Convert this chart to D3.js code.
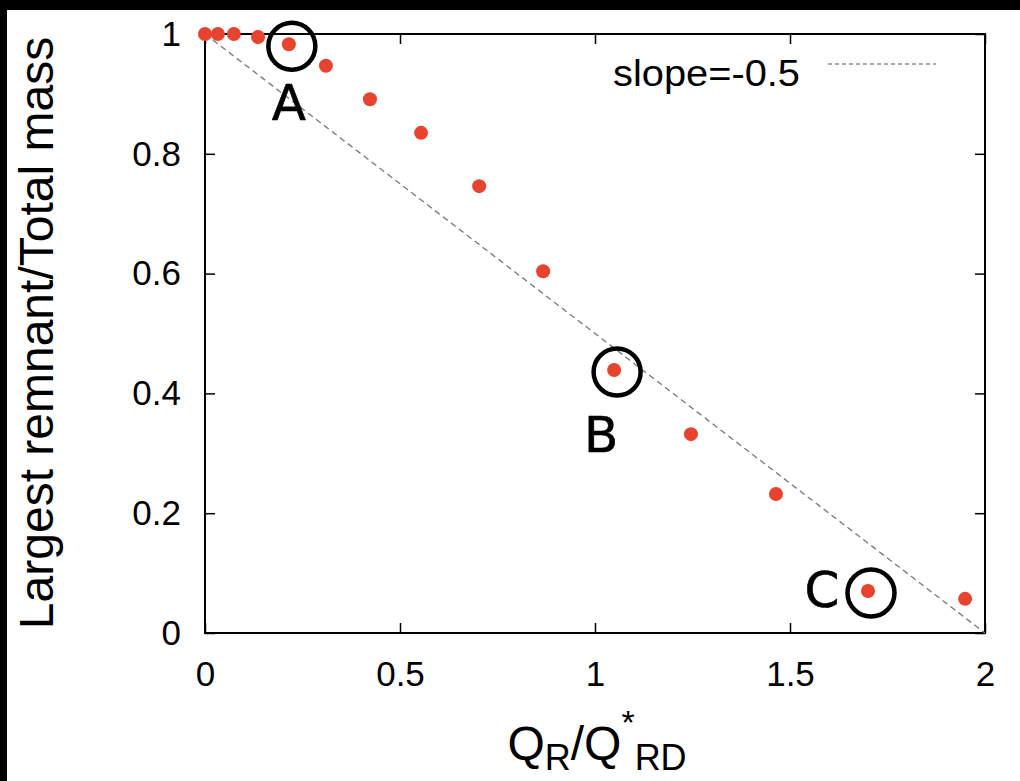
<!DOCTYPE html>
<html>
<head>
<meta charset="utf-8">
<script src="https://cdn.jsdelivr.net/npm/d3@7"></script>
<style>
  body { margin:0; background:#fff; }
  svg { display:block; }
  text { font-family: "Liberation Sans", Arial, sans-serif; fill:#000; }
</style>
</head>
<body>
<svg id="chart" width="1020" height="781"></svg>
<script>
// data
var qr = [0, 0.033, 0.074, 0.136, 0.215, 0.31, 0.423, 0.554, 0.703, 0.867, 1.049, 1.246, 1.464, 1.70, 1.949];
var remnant = [1.0, 1.0, 1.0, 0.995, 0.983, 0.947, 0.891, 0.835, 0.746, 0.604, 0.439, 0.332, 0.232, 0.070, 0.057];
var xTicks = [0, 0.5, 1, 1.5, 2];
var yTicks = [0, 0.2, 0.4, 0.6, 0.8, 1];
var fitLine = [[0, 1], [2, 0]];
// marked points: index into the series + label
var marks = [4, 10, 13];
var markLabels = ["A", "B", "C"];

var svg = d3.select('#chart');

// black frame strips of the screenshot
svg.append('rect').attr('x',0).attr('y',0).attr('width',1020).attr('height',10).attr('fill','#000');
svg.append('rect').attr('x',0).attr('y',0).attr('width',7).attr('height',781).attr('fill','#000');

var pLeft = 205, pRight = 985, pTop = 34, pBottom = 633;

const x = d3.scaleLinear().domain([0,2]).range([pLeft,pRight]);
const y = d3.scaleLinear().domain([0,1]).range([pBottom,pTop]);

var fmt = function(d){ return d3.format('~g')(d); };

// axes, gnuplot style: inward ticks on all four sides
svg.append('g').attr('transform','translate(0,'+pBottom+')')
    .call(d3.axisBottom(x).tickValues(xTicks).tickSize(-10).tickPadding(28).tickFormat(fmt))
    .call(g => g.select('.domain').remove())
    .selectAll('text').attr('font-size', 35).attr('font-family','Liberation Sans, Arial, sans-serif');
svg.append('g').attr('transform','translate(0,'+pTop+')')
    .call(d3.axisTop(x).tickValues(xTicks).tickSize(-10).tickFormat(''))
    .call(g => g.select('.domain').remove());
svg.append('g').attr('transform','translate('+pLeft+',0)')
    .call(d3.axisLeft(y).tickValues(yTicks).tickSize(-10).tickPadding(24).tickFormat(fmt))
    .call(g => g.select('.domain').remove())
    .selectAll('text').attr('font-size', 35).attr('font-family','Liberation Sans, Arial, sans-serif');
svg.append('g').attr('transform','translate('+pRight+',0)')
    .call(d3.axisRight(y).tickValues(yTicks).tickSize(-10).tickFormat(''))
    .call(g => g.select('.domain').remove());
svg.selectAll('.tick line').attr('stroke','#000').attr('stroke-width',1.5);

// border box
svg.append('rect')
    .attr('x', pLeft).attr('y', pTop)
    .attr('width', pRight-pLeft).attr('height', pBottom-pTop)
    .attr('fill','none').attr('stroke','#000').attr('stroke-width',2);

// slope line
svg.append('path')
    .datum(fitLine)
    .attr('d', d3.line().x(function(d){ return x(d[0]); }).y(function(d){ return y(d[1]); }))
    .attr('stroke','#777').attr('stroke-width',1.3).attr('stroke-dasharray','6,4').attr('fill','none');

// points
svg.selectAll('circle.pt')
    .data(qr)
    .enter().append('circle')
    .attr('class','pt')
    .attr('cx', function(d){ return x(d); })
    .attr('cy', function(d,i){ return y(remnant[i]); })
    .attr('r', 7)
    .attr('fill','#e8432e');

// legend
svg.append('text').attr('x', 613).attr('y', 86).attr('font-size', 36)
    .attr('textLength', 187).attr('lengthAdjust','spacingAndGlyphs').text('slope=-0.5');
svg.append('line').attr('x1', 828).attr('x2', 936).attr('y1', 64).attr('y2', 64)
    .attr('stroke','#555').attr('stroke-width',1).attr('stroke-dasharray','4,3');

// axis titles
svg.append('text')
    .attr('transform','translate(53,333) rotate(-90)')
    .attr('text-anchor','middle').attr('font-size', 48)
    .text('Largest remnant/Total mass');

var xt = svg.append('text').attr('x', 597).attr('y', 760).attr('text-anchor','middle').attr('font-size', 48);
xt.append('tspan').text('Q');
xt.append('tspan').attr('font-size', 36).attr('dy', 10).text('R');
xt.append('tspan').attr('dy', -10).text('/Q');
xt.append('tspan').attr('font-size', 34).attr('dy', -26).text('*');
xt.append('tspan').attr('font-size', 36).attr('dy', 36).text('RD');

// hand-drawn circles and letters
var offs = [[0, 76], [-13, 82], [-46, 16]];
svg.selectAll('circle.mark')
    .data(marks)
    .enter().append('circle')
    .attr('class','mark')
    .attr('cx', function(d){ return x(qr[d]) + 3; })
    .attr('cy', function(d){ return y(remnant[d]) + 2; })
    .attr('r', 23.5)
    .attr('fill','none').attr('stroke','#000').attr('stroke-width',4.5);
svg.selectAll('text.mark')
    .data(marks)
    .enter().append('text')
    .attr('class','mark')
    .attr('x', function(d,i){ return x(qr[d]) + offs[i][0]; })
    .attr('y', function(d,i){ return y(remnant[d]) + offs[i][1]; })
    .attr('text-anchor','middle')
    .attr('font-size', 50)
    .style('font-family','"Comic Sans MS", "DejaVu Sans", sans-serif')
    .attr('stroke','#000').attr('stroke-width',0.6)
    .text(function(d,i){ return markLabels[i]; });
</script>
</body>
</html>
